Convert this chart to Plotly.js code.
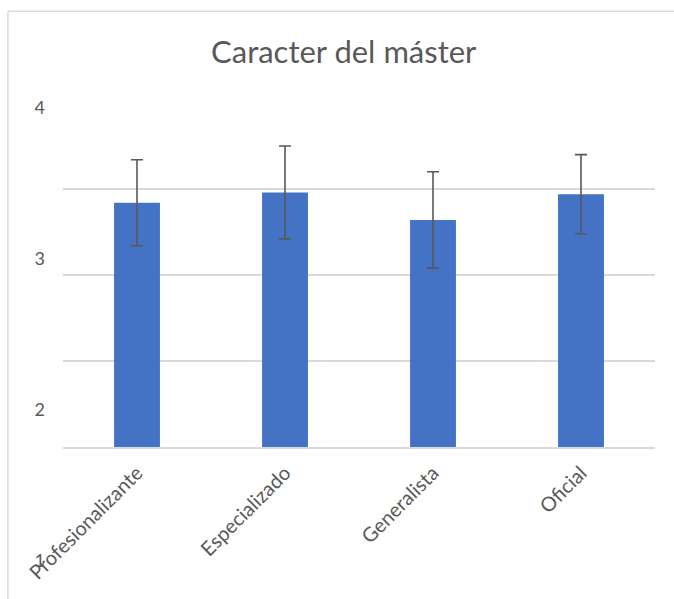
<!DOCTYPE html>
<html>
<head>
<meta charset="utf-8">
<script src="https://cdn.plot.ly/plotly-3.0.1.min.js"></script>
<style>html,body{margin:0;padding:0;background:#fff;}</style>
</head>
<body>
<div id="chart" style="width:674px;height:599px;"></div>
<script>
const categories = ["Profesionalizante", "Especializado", "Generalista", "Oficial"];
const means = [3.42, 3.48, 3.32, 3.47];
const errors = [0.25, 0.27, 0.28, 0.23];
const yLabelVals = [1, 2, 3, 4];
const yLabelText = ["1", "2", "3", "4"];

const FONT = "Lato, 'Open Sans', sans-serif";
const GREY = "#595959";

const bars = {
  type: "bar",
  x: categories,
  y: means,
  marker: {color: "#4472C4", line: {width: 0}},
  error_y: {type: "data", array: errors, visible: true, color: GREY, thickness: 1.6, width: 6},
  xaxis: "x", yaxis: "y",
  hoverinfo: "none"
};
const labelAxisTrace = {
  type: "scatter", mode: "markers",
  x: categories, y: [null, null, null, null],
  xaxis: "x", yaxis: "y2", showlegend: false, hoverinfo: "none"
};

const layout = {
  width: 674, height: 599,
  margin: {l: 63, r: 19, t: 103, b: 30},
  paper_bgcolor: "#ffffff", plot_bgcolor: "rgba(0,0,0,0)",
  showlegend: false,
  bargap: 0.69,
  title: {text: "Caracter del máster", font: {family: FONT, size: 31, color: GREY}, x: 0.51, xanchor: "center", y: 0.913, yanchor: "middle"},
  xaxis: {
    anchor: "y", domain: [0, 1],
    tickangle: -45, tickfont: {family: FONT, size: 20, color: GREY},
    showline: true, linecolor: "#d9d9d9", linewidth: 1.5,
    ticks: "", showgrid: false, zeroline: false, ticklabelstandoff: 5
  },
  yaxis: {
    domain: [0.2618, 1], range: [2, 4], anchor: "x",
    dtick: 0.5, showticklabels: false, ticks: "",
    showgrid: true, gridcolor: "#d9d9d9", gridwidth: 1.5, zeroline: false, showline: false
  },
  yaxis2: {
    domain: [0, 1], range: [0.947, 4.033], anchor: "free", position: 0, side: "left",
    tickmode: "array", tickvals: yLabelVals, ticktext: yLabelText,
    tickfont: {family: FONT, size: 18, color: GREY},
    ticks: "", showgrid: false, zeroline: false, showline: false, ticklabelstandoff: 18
  },
  shapes: [
    {type: "line", xref: "paper", yref: "paper", x0: -0.093, x1: 1.1, y0: 1.197, y1: 1.197, line: {color: "#d9d9d9", width: 1.5}},
    {type: "line", xref: "paper", yref: "paper", x0: -0.093, x1: -0.093, y0: 1.197, y1: -0.1, line: {color: "#d9d9d9", width: 1.5}}
  ]
};

Plotly.newPlot("chart", [bars, labelAxisTrace], layout, {staticPlot: true, displayModeBar: false});
</script>
</body>
</html>
